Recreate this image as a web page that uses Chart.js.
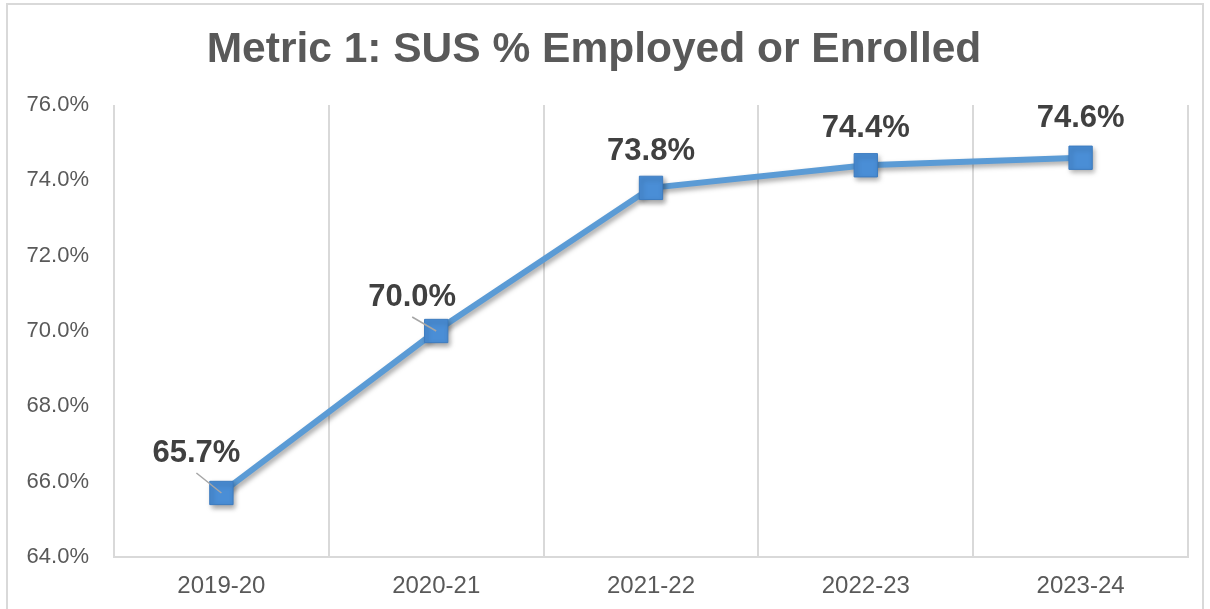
<!DOCTYPE html>
<html>
<head>
<meta charset="utf-8">
<script src="https://cdn.jsdelivr.net/npm/chart.js@4"></script>
<style>
  html, body { margin: 0; padding: 0; background: #fff; }
  #wrap { width: 1210px; height: 609px; position: relative; }
</style>
</head>
<body>
<div id="wrap"><canvas id="metricChart"></canvas></div>
<script>
const years = ['2019-20', '2020-21', '2021-22', '2022-23', '2023-24'];
const pctEmployed = [65.7, 70.0, 73.8, 74.4, 74.6];
const yMin = 64, yMax = 76, yStep = 2;

const BLUE  = '#5B9BD5';
const MARK  = '#4A8ED6';
const EDGE  = '#3D7CC0';
const GRID  = '#D9D9D9';
const TXT   = '#595959';
const LBL   = '#404040';

// label offsets from the marker (first two sit up-left with a leader line)
const lblOff = [[-25, -40, true], [-24, -34, true], [0, -36, false], [0, -37, false], [0, -39, false]];

const frame = {
  id: 'frame',
  beforeDraw(chart) {
    const c = chart.ctx;
    c.save();
    c.strokeStyle = GRID;
    c.lineWidth = 2;
    c.strokeRect(7, 4, 1196, 620);
    c.restore();
  }
};

const shadow = {
  id: 'shadow',
  beforeDatasetsDraw(chart) {
    const c = chart.ctx;
    c.save();
    c.shadowColor = 'rgba(0,0,0,0.35)';
    c.shadowBlur = 5;
    c.shadowOffsetX = 2;
    c.shadowOffsetY = 3;
  },
  afterDatasetsDraw(chart) {
    chart.ctx.restore();
  }
};

const labels = {
  id: 'valueLabels',
  afterDatasetsDraw(chart) {
    const c = chart.ctx;
    const pts = chart.getDatasetMeta(0).data;
    c.save();
    c.font = 'bold 31px "Liberation Sans", Arial, sans-serif';
    c.fillStyle = LBL;
    c.textAlign = 'center';
    c.textBaseline = 'middle';
    pts.forEach((p, i) => {
      const [dx, dy, lead] = lblOff[i];
      if (lead) {
        c.strokeStyle = '#A6A6A6';
        c.lineWidth = 1.5;
        c.beginPath();
        c.moveTo(p.x + dx, p.y + dy + 20);
        c.lineTo(p.x, p.y);
        c.stroke();
      }
      c.fillText(pctEmployed[i].toFixed(1) + '%', p.x + dx, p.y + dy);
    });
    c.restore();
  }
};

new Chart('metricChart', {
  type: 'line',
  data: {
    labels: years,
    datasets: [{
      data: pctEmployed,
      borderColor: BLUE,
      borderWidth: 6,
      pointStyle: 'rect',
      pointRadius: 16.5,
      pointBackgroundColor: MARK,
      pointBorderColor: EDGE,
      pointBorderWidth: 1,
      tension: 0
    }]
  },
  options: {
    responsive: true,
    maintainAspectRatio: false,
    animation: false,
    layout: { padding: { left: 0, right: 22, top: 0, bottom: 0 } },
    plugins: {
      legend: { display: false },
      tooltip: { enabled: false },
      title: {
        display: true,
        text: 'Metric 1: SUS % Employed or Enrolled',
        color: TXT,
        font: { family: '"Liberation Sans", Arial, sans-serif', size: 42.5, weight: 'bold' },
        padding: { top: 25, bottom: 29 }
      }
    },
    scales: {
      x: {
        offset: true,
        grid: { offset: true, color: GRID, lineWidth: 2, drawTicks: false },
        border: { display: true, color: GRID, width: 2 },
        ticks: {
          color: TXT,
          padding: 15,
          font: { family: '"Liberation Sans", Arial, sans-serif', size: 24 }
        },
        afterFit(s) { s.height = 52; }
      },
      y: {
        min: yMin, max: yMax,
        grid: { display: false },
        border: { display: false },
        ticks: {
          stepSize: yStep,
          color: TXT,
          padding: 17,
          font: { family: '"Liberation Sans", Arial, sans-serif', size: 22 },
          callback: v => v.toFixed(1) + '%'
        },
        afterFit(s) { s.width = 114; }
      }
    }
  },
  plugins: [frame, shadow, labels]
});
</script>
</body>
</html>
